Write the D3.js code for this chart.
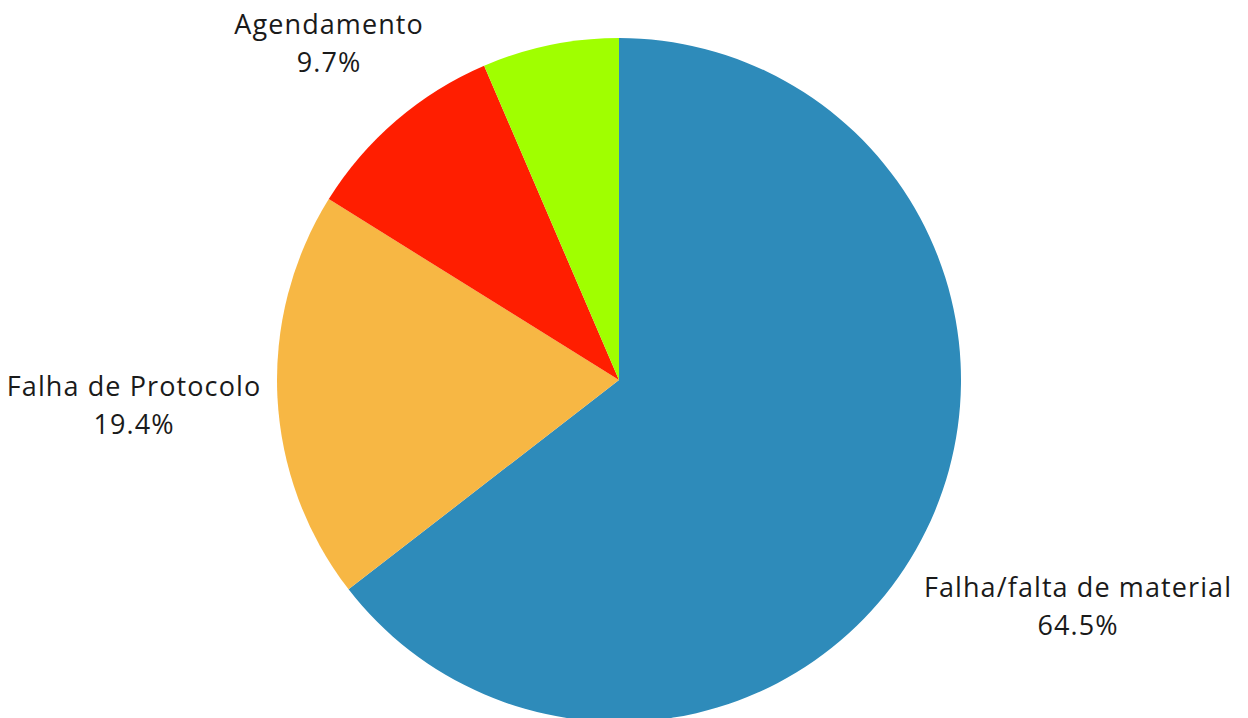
<!DOCTYPE html>
<html>
<head>
<meta charset="utf-8">
<script src="https://cdn.jsdelivr.net/npm/d3@7"></script>
<style>
  html, body { margin: 0; padding: 0; background: #fff; }
  svg text { font-family: "Open Sans", "Noto Sans", sans-serif; }
</style>
</head>
<body>
<svg id="chart" width="1248" height="718"></svg>
<script>
const categories = ["Falha/falta de material", "Falha de Protocolo", "Agendamento", "Outros"];
const values = [20, 6, 3, 2];
const colors = ["#2E8BBA", "#F7B744", "#FF1E00", "#A0FF00"];
const showLabel = [true, true, true, false];

const W = 1248, H = 718;
const cx = 619, cy = 380, radius = 342;
const fontSize = 27, lineGap = 38, pad = 16;

const svg = d3.select("#chart");
const g = svg.append("g").attr("transform", `translate(${cx},${cy})`);

const total = d3.sum(values);
const data = categories.map((c, i) => ({ name: c, value: values[i], color: colors[i], show: showLabel[i] }));
const pie = d3.pie().value(d => d.value).sort(null);
const arcs = pie(data);
const arc = d3.arc().innerRadius(0).outerRadius(radius);

g.selectAll("path.slice").data(arcs).enter().append("path")
  .attr("class", "slice")
  .attr("d", arc)
  .attr("fill", d => d.data.color);

const labels = g.selectAll("g.label").data(arcs.filter(d => d.data.show)).enter().append("g").attr("class", "label");
labels.each(function(d) {
  const sel = d3.select(this);
  const t = sel.append("text").attr("text-anchor", "middle").attr("fill", "#1a1a1a")
    .style("font-size", fontSize + "px").style("letter-spacing", "1.1px");
  t.append("tspan").attr("x", 0).attr("y", 0).text(d.data.name);
  t.append("tspan").attr("x", 0).attr("y", lineGap).text(d3.format(".1%")(d.data.value / total));
  const bb = t.node().getBBox();
  const w = bb.width, h = bb.height;
  const mid = (d.startAngle + d.endAngle) / 2;
  const ux = Math.sin(mid), uy = -Math.cos(mid);
  const sx = Math.sign(ux) || 1, sy = Math.sign(uy) || 1;
  const dx = sx * w / 2, dy = sy * h / 2;
  const R0 = radius + pad;
  const ud = ux * dx + uy * dy;
  const tt = ud + Math.sqrt(ud * ud - (dx * dx + dy * dy) + R0 * R0);
  const bx = tt * ux, by = tt * uy;
  const ox = bx - (bb.x + w / 2), oy = by - (bb.y + h / 2);
  t.attr("transform", `translate(${ox},${oy})`);
});
</script>
</body>
</html>
